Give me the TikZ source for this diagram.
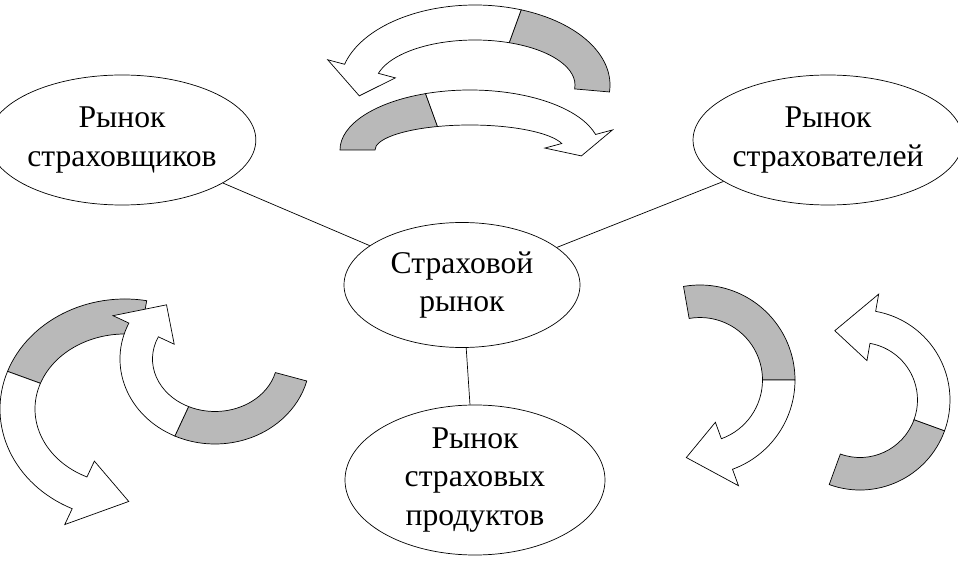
\documentclass[tikz,border=0pt]{standalone}
\usepackage{fontspec}
\setmainfont{Liberation Serif}
\usetikzlibrary{positioning,shapes.geometric}
% ribbon arrow: centre, x radius, y radius, width, start, middle, end, tip angle
\newcommand{\ribbonarrow}[8]{%
  \begin{scope}[shift={(#1)}]
    \filldraw[fill=gray!55] (#5:#2 and #3) arc[start angle=#5,end angle=#6,x radius=#2,y radius=#3]
      -- (#6:#2-#4 and #3-#4) arc[start angle=#6,end angle=#5,x radius=#2-#4,y radius=#3-#4] -- cycle;
    \filldraw[fill=white] (#6:#2 and #3) arc[start angle=#6,end angle=#7,x radius=#2,y radius=#3]
      -- (#7:#2+0.35 and #3+0.35) -- (#8:#2-#4/2 and #3-#4/2) -- (#7:#2-#4-0.35 and #3-#4-0.35)
      -- (#7:#2-#4 and #3-#4) arc[start angle=#7,end angle=#6,x radius=#2-#4,y radius=#3-#4] -- cycle;
  \end{scope}}
\begin{document}
\begin{tikzpicture}[
    every node/.style={font=\fontsize{18}{22}\selectfont, align=center},
    market/.style={draw, ellipse, minimum width=4.72cm, minimum height=2.6cm, inner sep=0pt},
    link/.style={draw, thin}]
  \useasboundingbox (0,0) rectangle (19.16,11.28);

  % markets
  \node[market] (insurers) at (2.44,8.48) {Рынок\\страховщиков};
  \node[market] (clients) at (16.56,8.48) {Рынок\\страхователей};
  \node[market, minimum height=2.5cm] (market) at (9.24,5.58) {Страховой\\рынок};
  \node[market, minimum width=5.2cm, minimum height=3cm] (products) at (9.5,1.68) {Рынок\\страховых\\продуктов};

  % links
  \path[link] (insurers) -- (market);
  \path[link] (clients) -- (market);
  \path[link] (market) -- (products);

  % top arrows
  \ribbonarrow{9.5,9.58}{2.7}{1.6}{0.7}{-5}{70}{165}{190}
  \ribbonarrow{9.4,8.28}{2.6}{1.2}{0.7}{180}{110}{15}{-8}

  % left arrows
  \ribbonarrow{2.5,3.1}{2.5}{2.2}{0.7}{80}{160}{245}{272}
  \ribbonarrow{4.3,4.1}{1.9}{1.7}{0.65}{-15}{-115}{-205}{-232}

  % right arrows
  \ribbonarrow{14.0,3.68}{1.9}{1.9}{0.65}{100}{0}{-70}{-100}
  \ribbonarrow{17.2,3.28}{1.8}{1.8}{0.65}{-110}{-20}{80}{110}
\end{tikzpicture}
\end{document}
